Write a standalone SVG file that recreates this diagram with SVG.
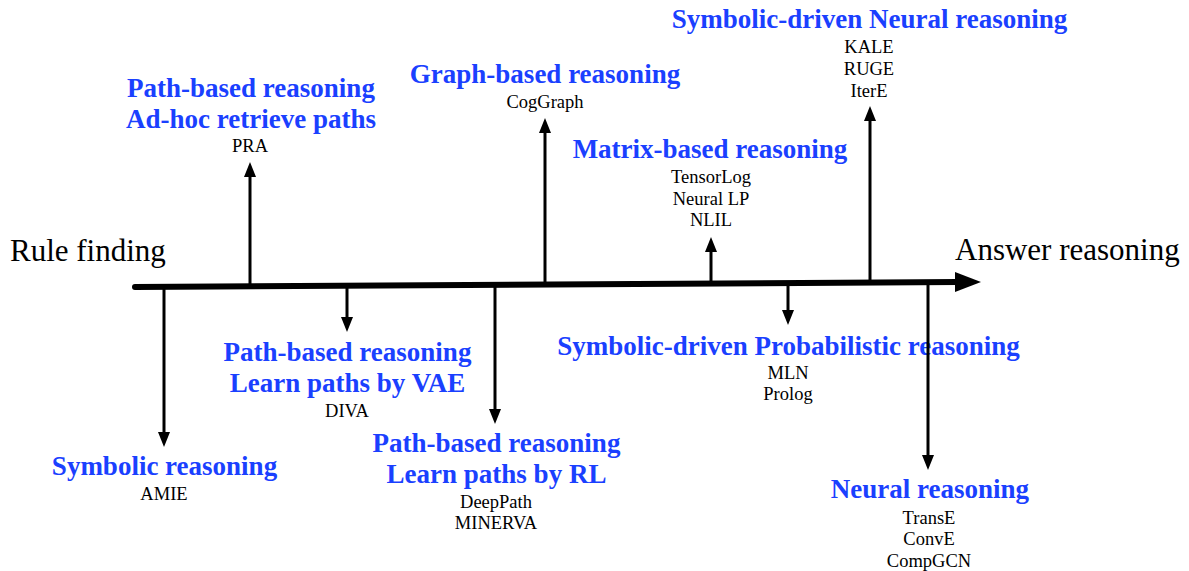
<svg xmlns="http://www.w3.org/2000/svg" width="1189" height="571" viewBox="0 0 1189 571">
  <style>
    .cat { font-family: "Liberation Serif", "Times New Roman", serif; font-weight: bold; font-size: 27px; fill: #1a40ff; text-anchor: middle; }
    .item { font-family: "Liberation Serif", "Times New Roman", serif; font-size: 18.5px; fill: #000; text-anchor: middle; }
    .end { font-family: "Liberation Serif", "Times New Roman", serif; font-size: 31px; fill: #000; }
    .stem { stroke: #000; stroke-width: 3; fill: none; marker-end: url(#head); }
  </style>
  <defs>
    <marker id="head" markerUnits="userSpaceOnUse" markerWidth="15" markerHeight="12" refX="0" refY="6" orient="auto" viewBox="0 0 15 12">
      <path d="M0,0 L15,6 L0,12 z" fill="#000"/>
    </marker>
  </defs>
  <rect width="1189" height="571" fill="#fff"/>

  <!-- axis ends -->
  <text class="end" x="10" y="261">Rule finding</text>
  <text class="end" x="955" y="260">Answer reasoning</text>

  <!-- categories above the axis -->
  <g id="path-adhoc">
    <text class="cat" x="251" y="97">Path-based reasoning</text>
    <text class="cat" x="251" y="128">Ad-hoc retrieve paths</text>
    <text class="item" x="250" y="152">PRA</text>
  </g>
  <g id="graph-based">
    <text class="cat" x="545" y="83">Graph-based reasoning</text>
    <text class="item" x="545" y="108">CogGraph</text>
  </g>
  <g id="matrix-based">
    <text class="cat" x="710" y="158">Matrix-based reasoning</text>
    <text class="item" x="711" y="183">TensorLog</text>
    <text class="item" x="711" y="204.5">Neural LP</text>
    <text class="item" x="711" y="226">NLIL</text>
  </g>
  <g id="symbolic-neural">
    <text class="cat" x="869.5" y="28">Symbolic-driven Neural reasoning</text>
    <text class="item" x="869" y="53">KALE</text>
    <text class="item" x="869" y="75">RUGE</text>
    <text class="item" x="869" y="97">IterE</text>
  </g>

  <!-- categories below the axis -->
  <g id="symbolic">
    <text class="cat" x="164.5" y="475">Symbolic reasoning</text>
    <text class="item" x="164" y="500">AMIE</text>
  </g>
  <g id="path-vae">
    <text class="cat" x="347.5" y="361">Path-based reasoning</text>
    <text class="cat" x="347.5" y="392">Learn paths by VAE</text>
    <text class="item" x="347" y="417">DIVA</text>
  </g>
  <g id="path-rl">
    <text class="cat" x="496.5" y="452">Path-based reasoning</text>
    <text class="cat" x="496.5" y="483">Learn paths by RL</text>
    <text class="item" x="496" y="508">DeepPath</text>
    <text class="item" x="496" y="529">MINERVA</text>
  </g>
  <g id="symbolic-probabilistic">
    <text class="cat" x="788.5" y="355">Symbolic-driven Probabilistic reasoning</text>
    <text class="item" x="788" y="379">MLN</text>
    <text class="item" x="788" y="400">Prolog</text>
  </g>
  <g id="neural">
    <text class="cat" x="930" y="498">Neural reasoning</text>
    <text class="item" x="929" y="524">TransE</text>
    <text class="item" x="929" y="545">ConvE</text>
    <text class="item" x="929" y="567">CompGCN</text>
  </g>

  <!-- timeline and branches -->
  <g id="connectors">
    <line x1="135" y1="287" x2="958" y2="282" stroke="#000" stroke-width="6" stroke-linecap="round"/>
    <path d="M955,272 L981,282 L955,292 z" fill="#000"/>
    <line class="stem" x1="250" y1="286" x2="250" y2="177"/>
    <line class="stem" x1="545" y1="284" x2="545" y2="133"/>
    <line class="stem" x1="711" y1="283" x2="711" y2="252"/>
    <line class="stem" x1="870" y1="282" x2="870" y2="121"/>
    <line class="stem" x1="164" y1="287" x2="164" y2="432"/>
    <line class="stem" x1="347" y1="286" x2="347" y2="317"/>
    <line class="stem" x1="495" y1="285" x2="495" y2="409"/>
    <line class="stem" x1="788" y1="283" x2="788" y2="310"/>
    <line class="stem" x1="928" y1="282" x2="928" y2="455"/>
  </g>
</svg>
